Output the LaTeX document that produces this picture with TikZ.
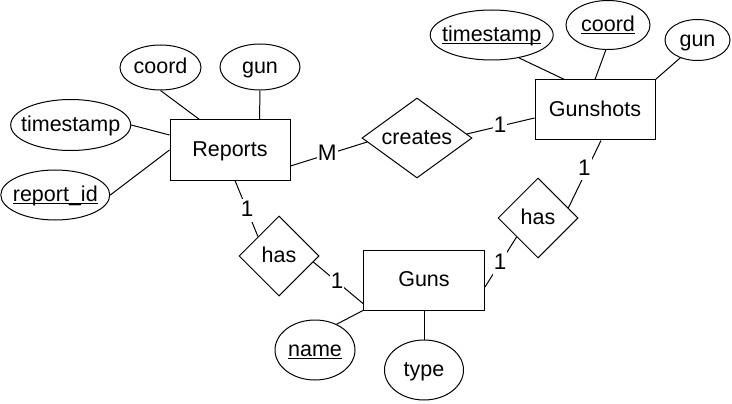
\documentclass[tikz,border=0pt]{standalone}
\usepackage{fontspec}
\setmainfont{Liberation Sans}
\usetikzlibrary{shapes.geometric,calc}
\newcommand\ulx[1]{\setbox0\hbox{#1}\rlap{\rule[-2.5pt]{\wd0}{1.2pt}}\box0}
\tikzset{
  base/.style={draw, line width=1pt, inner sep=0pt,
    font=\fontsize{21.5}{26}\selectfont, text height=17pt, text depth=4.3pt},
  entity/.style={base, rectangle, minimum width=120pt, minimum height=60pt},
  rel/.style={base, diamond, minimum height=80pt},
  attr/.style={base, ellipse},
  card/.style={fill=white, inner sep=1pt, font=\fontsize{22.5}{27}\selectfont,
    text height=17pt, text depth=4.3pt},
  conn/.style={line width=1pt}
}
\begin{document}
\begin{tikzpicture}[x=1pt,y=-1pt]
\useasboundingbox (0,0) rectangle (732,404);
% entities
\node[entity] (rep) at (230,150) {Reports};
\node[entity] (gs) at (595,110) {Gunshots};
\node[entity, minimum width=121pt] (guns) at (424,280) {Guns};
% relationships
\node[rel, minimum width=110pt] (cr) at (417,138) {\makebox[0pt]{creates}};
\node[rel, minimum width=80pt] (h1) at (279,256) {\makebox[0pt]{has}};
\node[rel, minimum width=80pt] (h2) at (538,218) {\makebox[0pt]{has}};
% attributes
\node[attr, minimum width=81pt, minimum height=45pt] (rcoord) at (160.5,67.5) {\makebox[0pt]{coord}};
\node[attr, minimum width=80pt, minimum height=46pt] (rgun) at (260,67) {\makebox[0pt]{gun}};
\node[attr, minimum width=120pt, minimum height=51pt] (rts) at (70.7,125) {\makebox[0pt]{timestamp}};
\node[attr, minimum width=109pt, minimum height=50pt] (rid) at (55.3,195) {\makebox[0pt]{\ulx{report\_id}}};
\node[attr, minimum width=123pt, minimum height=50pt] (gts) at (491.7,35) {\makebox[0pt]{\ulx{timestamp}}};
\node[attr, minimum width=84pt, minimum height=49pt] (gcoord) at (608,25) {\makebox[0pt]{\ulx{coord}}};
\node[attr, minimum width=65pt, minimum height=41pt] (ggun) at (697.5,40) {\makebox[0pt]{gun}};
\node[attr, minimum width=80pt, minimum height=60pt] (name) at (315,350) {\makebox[0pt]{\ulx{name}}};
\node[attr, minimum width=79pt, minimum height=60pt] (type) at (424,370) {\makebox[0pt]{type}};
% attribute connectors
\draw[conn] (rcoord.south) -- ([xshift=30pt]rep.north west);
\draw[conn] (rgun.south) -- ([xshift=90pt]rep.north west);
\draw[conn] (rts.east) -- ([yshift=15pt]rep.west);
\draw[conn] (rid.east) -- (rep.west);
\draw[conn] (gts.-40) -- ([xshift=30pt]gs.north west);
\draw[conn] (gcoord.-95) -- (gs.north);
\draw[conn] (ggun.-134) -- (gs.north east);
\draw[conn] (guns.south west) -- (name.50);
\draw[conn] (guns.south) -- (type.north);
% relationship connectors
\draw[conn] ([yshift=-16pt]rep.east) -- ($(cr.west)!0.1!(cr.south)$) node[card, pos=0.48] {M};
\draw[conn] ($(cr.east)!0.1!(cr.north)$) -- ([yshift=-8pt]gs.west) node[card, pos=0.49] {1};
\draw[conn] ([xshift=6pt]gs.south) -- ($(h2.east)!0.25!(h2.north)$) node[card, pos=0.42, xshift=-3pt] {1};
\draw[conn] ($(h2.west)!0.47!(h2.south)$) -- ([yshift=-7pt]guns.east) node[card, pos=0.52] {1};
\draw[conn] ([xshift=5pt]rep.south) -- ($(h1.west)!0.48!(h1.north)$) node[card, pos=0.53] {1};
\draw[conn] ($(h1.east)!0.15!(h1.south)$) -- ([yshift=7pt]guns.south west) node[card, pos=0.48] {1};
\end{tikzpicture}
\end{document}
